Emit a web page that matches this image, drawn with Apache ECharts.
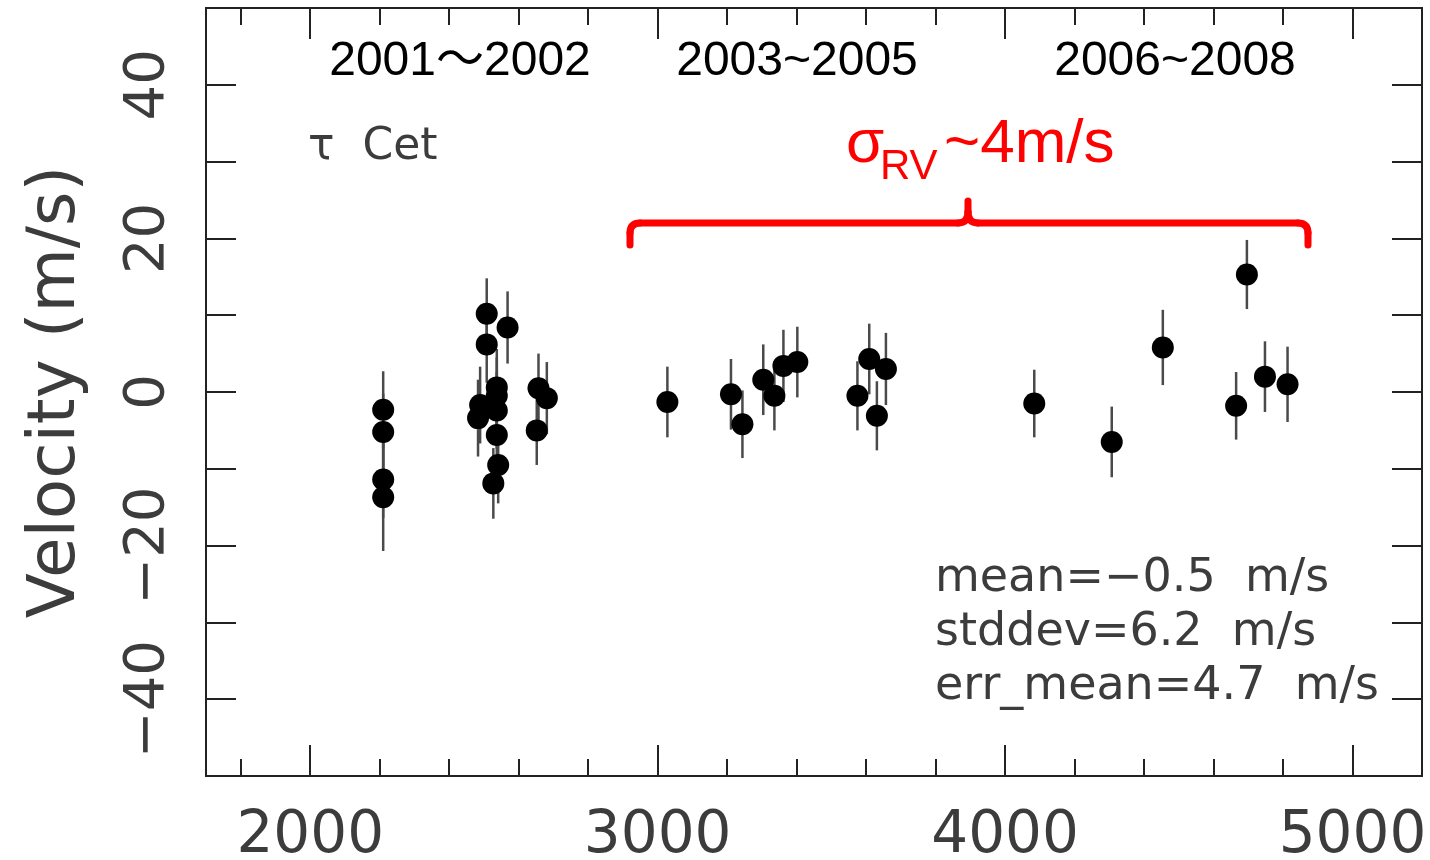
<!DOCTYPE html>
<html>
<head>
<meta charset="utf-8">
<title>tau Cet velocity</title>
<script src="https://cdn.jsdelivr.net/npm/echarts@6/dist/echarts.min.js"></script>
<style>
    html, body { margin: 0; padding: 0; background: #fff; }
    #main { width: 1430px; height: 860px; }
</style>
</head>
<body>
<div id="main"></div>
<script>
// observation epochs (JD - 2450000), velocities and 1-sigma errors (m/s)
var obsTime = [
    2210, 2210, 2210, 2210,
    2508, 2508, 2568,
    2489, 2483, 2537, 2537, 2537, 2537, 2541, 2527,
    2657, 2681, 2652,
    3028, 3211, 3244, 3304, 3336, 3362, 3402,
    3575, 3609, 3657, 3631,
    4084, 4307, 4454, 4696, 4665, 4748, 4813
];
var obsVel = [
    -2.3, -5.2, -11.4, -13.7,
    10.2, 6.2, 8.4,
    -1.7, -3.4, 0.6, -0.5, -2.4, -5.6, -9.5, -11.9,
    0.5, -0.8, -5.0,
    -1.3, -0.3, -4.2, 1.6, -0.5, 3.4, 3.9,
    -0.5, 4.3, 3.0, -3.1,
    -1.5, -6.5, 5.8, 15.3, -1.8, 2.0, 1.0
];
var obsErr = [
    5.0, 5.0, 5.0, 7.0,
    4.6, 5.0, 4.7,
    5.0, 5.0, 5.0, 5.0, 5.0, 5.0, 5.0, 4.6,
    4.5, 4.7, 4.5,
    4.6, 4.6, 4.4, 4.6, 4.5, 4.7, 4.6,
    4.5, 4.6, 4.7, 4.5,
    4.4, 4.6, 4.9, 4.5, 4.4, 4.6, 4.9
];

var xMajorTicks = [2000, 3000, 4000, 5000];
var xMinorTicks = [1800, 2000, 2200, 2400, 2600, 2800, 3000, 3200, 3400, 3600,
    3800, 4000, 4200, 4400, 4600, 4800, 5000, 5200];
var yLabels = [-40, -20, 0, 20, 40];

var seasons = ['2001\uFF5E2002', '2003~2005', '2006~2008'];
var statsLines = ['mean=\u22120.5  m/s', 'stddev=6.2  m/s', 'err_mean=4.7  m/s'];

var axisFont = 'DejaVu Sans';
var axisColor = '#3c3c3c';
var red = '#ff0000';

function errData() {
    var res = [];
    for (var i = 0; i < obsTime.length; i++) {
        res.push([obsTime[i], obsVel[i], obsErr[i]]);
    }
    return res;
}

function pointData() {
    var res = [];
    for (var i = 0; i < obsTime.length; i++) {
        res.push([obsTime[i], obsVel[i]]);
    }
    return res;
}

function renderErr(params, api) {
    var x = api.value(0);
    var v = api.value(1);
    var e = api.value(2);
    var lo = api.coord([x, v - e]);
    var hi = api.coord([x, v + e]);
    return {
        type: 'line',
        shape: { x1: lo[0], y1: lo[1], x2: hi[0], y2: hi[1] },
        style: { stroke: '#4a4a4a', lineWidth: 2.5 }
    };
}

function plainNum(v) {
    return String(v).replace('-', '\u2212');
}

function xAxisDef(pos, ticks, len, labels) {
    return {
        type: 'value',
        position: pos,
        min: 1700,
        max: 5200,
        axisLine: { show: false, onZero: false },
        splitLine: { show: false },
        axisTick: {
            inside: true,
            length: len,
            customValues: ticks,
            lineStyle: { color: '#222', width: 2 }
        },
        axisLabel: labels ? {
            customValues: xMajorTicks,
            formatter: plainNum,
            fontSize: 58,
            fontFamily: axisFont,
            color: axisColor,
            margin: 32
        } : { show: false }
    };
}

function yAxisDef(pos, labels) {
    var ax = {
        type: 'value',
        position: pos,
        min: -50,
        max: 50,
        interval: 10,
        axisLine: { show: false, onZero: false },
        splitLine: { show: false },
        axisTick: {
            inside: true,
            length: 30,
            lineStyle: { color: '#222', width: 2 }
        },
        axisLabel: { show: false }
    };
    if (labels) {
        ax.axisLabel = {
            customValues: yLabels,
            formatter: plainNum,
            rotate: 90,
            fontSize: 56,
            fontFamily: axisFont,
            color: axisColor,
            margin: 30
        };
        ax.name = 'Velocity (m/s)';
        ax.nameLocation = 'middle';
        ax.nameRotate = 90;
        ax.nameGap = 116;
        ax.nameTextStyle = { fontSize: 66, fontFamily: axisFont, color: axisColor };
    }
    return ax;
}

function seg(x1, y1, x2, y2) {
    return {
        type: 'line',
        shape: { x1: x1, y1: y1, x2: x2, y2: y2 },
        style: { stroke: red, lineWidth: 7, lineCap: 'round' }
    };
}

function curve(x1, y1, cx, cy, x2, y2) {
    return {
        type: 'bezierCurve',
        shape: { x1: x1, y1: y1, cpx1: cx, cpy1: cy, x2: x2, y2: y2 },
        style: { stroke: red, lineWidth: 7, fill: null, lineCap: 'round' }
    };
}

var graphics = [];
var seasonX = [460, 797, 1175];
for (var i = 0; i < seasons.length; i++) {
    graphics.push({
        type: 'text', x: seasonX[i], y: 62,
        style: {
            text: seasons[i], fill: '#000', fontSize: 48,
            fontFamily: 'Liberation Sans, Noto Sans CJK SC',
            align: 'center', verticalAlign: 'middle'
        }
    });
}
graphics.push({
    type: 'text', x: 308, y: 148,
    style: { text: '\u03C4  Cet', fill: axisColor, fontSize: 44, fontFamily: axisFont, verticalAlign: 'middle' }
});
for (var j = 0; j < statsLines.length; j++) {
    graphics.push({
        type: 'text', x: 935, y: 579 + j * 54,
        style: { text: statsLines[j], fill: axisColor, fontSize: 46, fontFamily: axisFont, verticalAlign: 'middle' }
    });
}
// red sigma_RV annotation and brace
graphics.push({
    type: 'text', x: 846, y: 145,
    style: { text: '\u03C3', fill: red, fontSize: 62, fontFamily: 'Liberation Sans', verticalAlign: 'middle' }
});
graphics.push({
    type: 'text', x: 880, y: 167,
    style: { text: 'RV', fill: red, fontSize: 42, fontFamily: 'Liberation Sans', verticalAlign: 'middle' }
});
graphics.push({
    type: 'text', x: 944, y: 145,
    style: { text: '~4m/s', fill: red, fontSize: 62, fontFamily: 'Liberation Sans', verticalAlign: 'middle' }
});
graphics.push(seg(630, 245, 630, 233));
graphics.push(curve(630, 233, 630, 223, 640, 223));
graphics.push(seg(640, 223, 958, 223));
graphics.push(curve(958, 223, 968, 223, 968, 212));
graphics.push(seg(968, 212, 968, 201));
graphics.push(curve(968, 212, 968, 223, 978, 223));
graphics.push(seg(978, 223, 1298, 223));
graphics.push(curve(1298, 223, 1308, 223, 1308, 233));
graphics.push(seg(1308, 233, 1308, 245));

var chart = echarts.init(document.getElementById('main'));
var option = {
    backgroundColor: '#fff',
    animation: false,
    grid: {
        left: 206, right: 8, top: 8, bottom: 84,
        containLabel: false,
        outerBoundsMode: 'none',
        show: true, borderColor: '#222', borderWidth: 2, backgroundColor: 'transparent'
    },
    xAxis: [
        xAxisDef('bottom', xMajorTicks, 31, true),
        xAxisDef('bottom', xMinorTicks, 17, false),
        xAxisDef('top', xMajorTicks, 31, false),
        xAxisDef('top', xMinorTicks, 17, false)
    ],
    yAxis: [
        yAxisDef('left', true),
        yAxisDef('right', false)
    ],
    series: [
        {
            type: 'custom',
            renderItem: renderErr,
            data: errData(),
            z: 2
        },
        {
            type: 'scatter',
            data: pointData(),
            symbolSize: 22,
            itemStyle: { color: '#000', opacity: 1 },
            z: 3
        }
    ],
    graphic: graphics
};
chart.setOption(option);
</script>
</body>
</html>
